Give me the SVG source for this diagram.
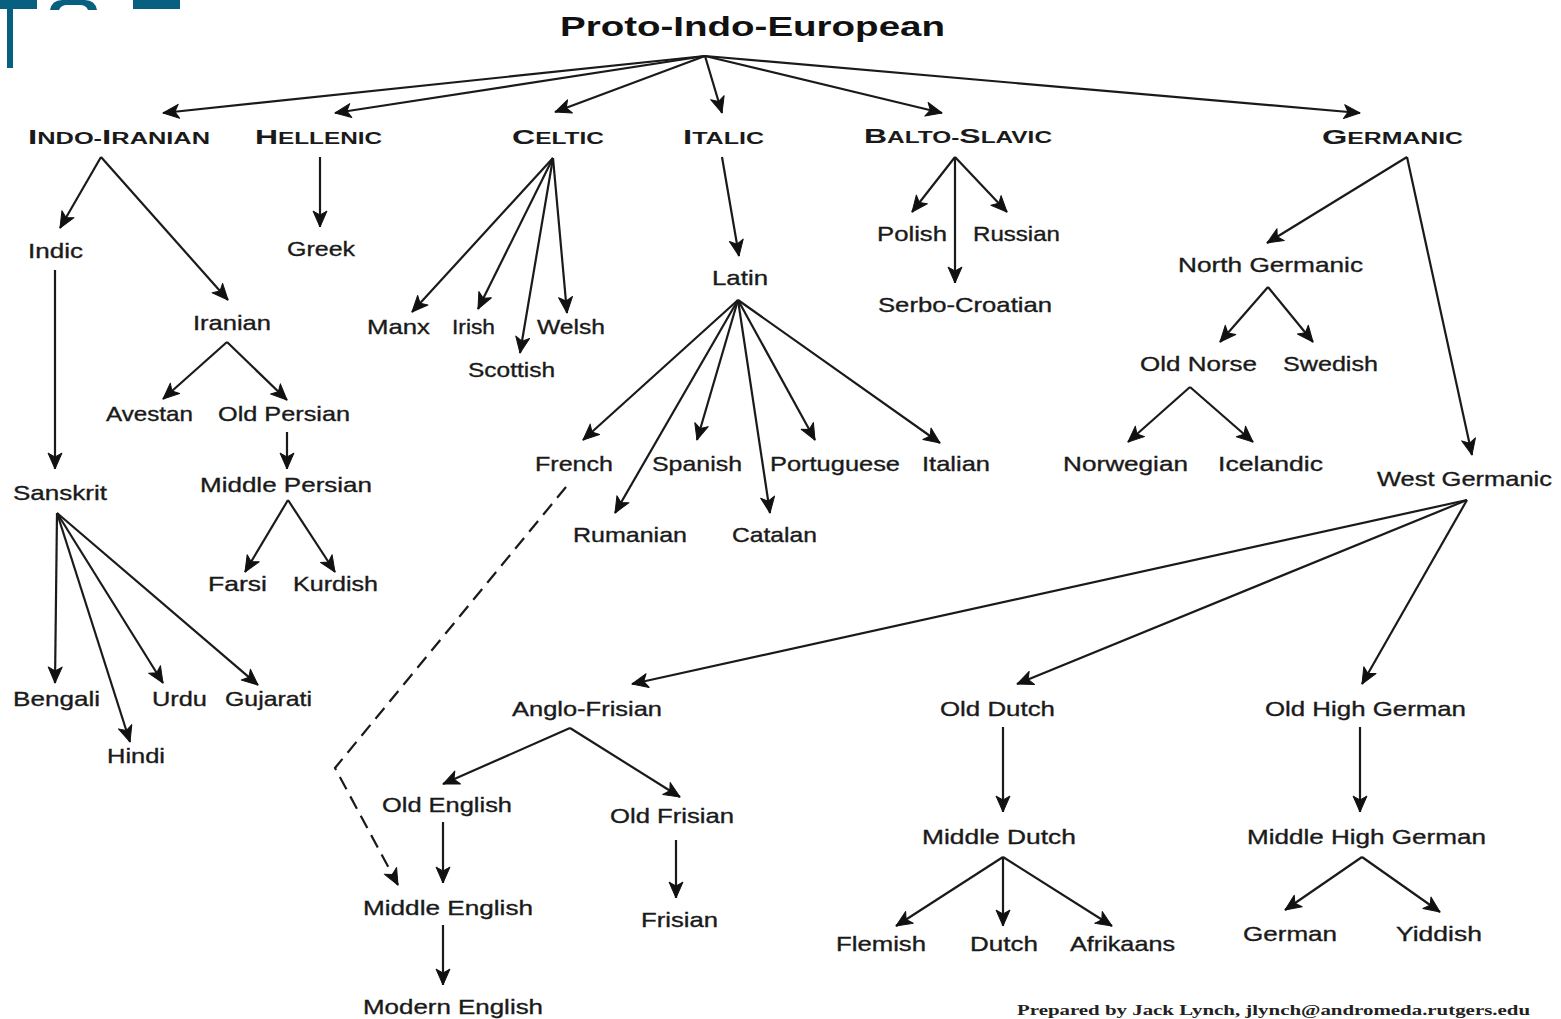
<svg xmlns="http://www.w3.org/2000/svg" width="1561" height="1019" viewBox="0 0 1561 1019">
<style>
.lbl{font-family:"Liberation Sans",Arial,sans-serif;font-size:21px;fill:#1a1a1a;stroke:#1a1a1a;stroke-width:0.35}
.hd{font-family:"Liberation Sans",Arial,sans-serif;font-weight:bold;font-size:16px;fill:#1a1a1a}
.big{font-size:21px}
.ttl{font-family:"Liberation Sans",Arial,sans-serif;font-weight:bold;font-size:28px;fill:#111}
.cr{font-family:"Liberation Serif","Times New Roman",serif;font-weight:bold;font-size:14px;fill:#222}
.c line,.c polyline{stroke:#1a1a1a;stroke-width:2.2;fill:none;marker-end:url(#ah)}
.c .dash{stroke-dasharray:14 8}
</style>
<defs>
<marker id="ah" markerUnits="userSpaceOnUse" markerWidth="20" markerHeight="18" refX="17" refY="8" orient="auto">
<path d="M1,1 L17,8 L1,15 L5,8 Z" fill="#111" stroke="#111" stroke-width="1" stroke-linejoin="round"/>
</marker>
</defs>
<rect width="1561" height="1019" fill="#fff"/>
<g id="corner" fill="#086080">
<rect x="0" y="0" width="37" height="9"/>
<rect x="7" y="0" width="6" height="68"/>
<path d="M50,10 Q52,0 62,0 H85 Q95,0 97,10 H88 Q86,5 80,5 H67 Q61,5 59,10 Z"/>
<rect x="133" y="0" width="47" height="9"/>
</g>
<g id="connectors" class="c">
<line x1="705" y1="56" x2="163" y2="113"/>
<line x1="705" y1="56" x2="335" y2="113"/>
<line x1="705" y1="56" x2="555" y2="112"/>
<line x1="705" y1="56" x2="722" y2="113"/>
<line x1="705" y1="56" x2="942" y2="113"/>
<line x1="705" y1="56" x2="1360" y2="113"/>
<line x1="101" y1="157" x2="60" y2="228"/>
<line x1="101" y1="157" x2="228" y2="300"/>
<line x1="55" y1="270" x2="55" y2="469"/>
<line x1="320" y1="157" x2="320" y2="227"/>
<line x1="227" y1="342" x2="163" y2="399"/>
<line x1="227" y1="342" x2="287" y2="400"/>
<line x1="287" y1="432" x2="287" y2="469"/>
<line x1="288" y1="500" x2="245" y2="572"/>
<line x1="288" y1="500" x2="335" y2="572"/>
<line x1="57" y1="513" x2="55" y2="683"/>
<line x1="57" y1="513" x2="130" y2="742"/>
<line x1="57" y1="513" x2="163" y2="683"/>
<line x1="57" y1="513" x2="258" y2="685"/>
<line x1="553" y1="158" x2="412" y2="312"/>
<line x1="553" y1="158" x2="478" y2="309"/>
<line x1="553" y1="158" x2="520" y2="353"/>
<line x1="553" y1="158" x2="567" y2="313"/>
<line x1="722" y1="157" x2="739" y2="256"/>
<line x1="738" y1="300" x2="583" y2="440"/>
<line x1="738" y1="300" x2="615" y2="513"/>
<line x1="738" y1="300" x2="697" y2="440"/>
<line x1="738" y1="300" x2="770" y2="513"/>
<line x1="738" y1="300" x2="815" y2="440"/>
<line x1="738" y1="300" x2="940" y2="443"/>
<line x1="955" y1="157" x2="912" y2="212"/>
<line x1="955" y1="157" x2="1007" y2="212"/>
<line x1="955" y1="157" x2="955" y2="283"/>
<line x1="1407" y1="157" x2="1267" y2="243"/>
<line x1="1407" y1="157" x2="1472" y2="455"/>
<line x1="1268" y1="287" x2="1220" y2="342"/>
<line x1="1268" y1="287" x2="1313" y2="342"/>
<line x1="1190" y1="387" x2="1128" y2="442"/>
<line x1="1190" y1="387" x2="1253" y2="442"/>
<line x1="1467" y1="500" x2="632" y2="684"/>
<line x1="1467" y1="500" x2="1017" y2="684"/>
<line x1="1467" y1="500" x2="1362" y2="684"/>
<line x1="570" y1="728" x2="443" y2="784"/>
<line x1="570" y1="728" x2="680" y2="797"/>
<line x1="443" y1="822" x2="443" y2="883"/>
<line x1="443" y1="925" x2="443" y2="985"/>
<line x1="676" y1="840" x2="676" y2="898"/>
<line x1="1003" y1="727" x2="1003" y2="812"/>
<line x1="1003" y1="857" x2="896" y2="926"/>
<line x1="1003" y1="857" x2="1003" y2="926"/>
<line x1="1003" y1="857" x2="1112" y2="926"/>
<line x1="1360" y1="727" x2="1360" y2="812"/>
<line x1="1362" y1="857" x2="1285" y2="910"/>
<line x1="1362" y1="857" x2="1440" y2="912"/>
<polyline class="dash" points="566,487 335,768 398,885"/>
</g>
<g id="n-pie"><text class="ttl" x="560" y="36" textLength="385" lengthAdjust="spacingAndGlyphs">Proto-Indo-European</text></g>
<g id="n-indoiranian"><text class="hd" x="28" y="144" textLength="182" lengthAdjust="spacingAndGlyphs"><tspan class="big">I</tspan>NDO-<tspan class="big">I</tspan>RANIAN</text></g>
<g id="n-hellenic"><text class="hd" x="255" y="144" textLength="127" lengthAdjust="spacingAndGlyphs"><tspan class="big">H</tspan>ELLENIC</text></g>
<g id="n-celtic"><text class="hd" x="512" y="144" textLength="92" lengthAdjust="spacingAndGlyphs"><tspan class="big">C</tspan>ELTIC</text></g>
<g id="n-italic"><text class="hd" x="683" y="144" textLength="81" lengthAdjust="spacingAndGlyphs"><tspan class="big">I</tspan>TALIC</text></g>
<g id="n-baltoslavic"><text class="hd" x="864" y="143" textLength="188" lengthAdjust="spacingAndGlyphs"><tspan class="big">B</tspan>ALTO-<tspan class="big">S</tspan>LAVIC</text></g>
<g id="n-germanic"><text class="hd" x="1322" y="144" textLength="141" lengthAdjust="spacingAndGlyphs"><tspan class="big">G</tspan>ERMANIC</text></g>
<g id="n-indic"><text class="lbl" x="28" y="258" textLength="55" lengthAdjust="spacingAndGlyphs">Indic</text></g>
<g id="n-greek"><text class="lbl" x="287" y="256" textLength="68" lengthAdjust="spacingAndGlyphs">Greek</text></g>
<g id="n-iranian"><text class="lbl" x="193" y="330" textLength="78" lengthAdjust="spacingAndGlyphs">Iranian</text></g>
<g id="n-avestan"><text class="lbl" x="106" y="421" textLength="87" lengthAdjust="spacingAndGlyphs">Avestan</text></g>
<g id="n-oldpersian"><text class="lbl" x="218" y="421" textLength="132" lengthAdjust="spacingAndGlyphs">Old Persian</text></g>
<g id="n-middlepersian"><text class="lbl" x="200" y="492" textLength="172" lengthAdjust="spacingAndGlyphs">Middle Persian</text></g>
<g id="n-sanskrit"><text class="lbl" x="13" y="500" textLength="94" lengthAdjust="spacingAndGlyphs">Sanskrit</text></g>
<g id="n-farsi"><text class="lbl" x="208" y="591" textLength="59" lengthAdjust="spacingAndGlyphs">Farsi</text></g>
<g id="n-kurdish"><text class="lbl" x="293" y="591" textLength="85" lengthAdjust="spacingAndGlyphs">Kurdish</text></g>
<g id="n-bengali"><text class="lbl" x="13" y="706" textLength="87" lengthAdjust="spacingAndGlyphs">Bengali</text></g>
<g id="n-urdu"><text class="lbl" x="152" y="706" textLength="55" lengthAdjust="spacingAndGlyphs">Urdu</text></g>
<g id="n-gujarati"><text class="lbl" x="225" y="706" textLength="87" lengthAdjust="spacingAndGlyphs">Gujarati</text></g>
<g id="n-hindi"><text class="lbl" x="107" y="763" textLength="58" lengthAdjust="spacingAndGlyphs">Hindi</text></g>
<g id="n-manx"><text class="lbl" x="367" y="334" textLength="63" lengthAdjust="spacingAndGlyphs">Manx</text></g>
<g id="n-irish"><text class="lbl" x="452" y="334" textLength="43" lengthAdjust="spacingAndGlyphs">Irish</text></g>
<g id="n-welsh"><text class="lbl" x="537" y="334" textLength="68" lengthAdjust="spacingAndGlyphs">Welsh</text></g>
<g id="n-scottish"><text class="lbl" x="468" y="377" textLength="87" lengthAdjust="spacingAndGlyphs">Scottish</text></g>
<g id="n-latin"><text class="lbl" x="712" y="285" textLength="56" lengthAdjust="spacingAndGlyphs">Latin</text></g>
<g id="n-french"><text class="lbl" x="535" y="471" textLength="78" lengthAdjust="spacingAndGlyphs">French</text></g>
<g id="n-spanish"><text class="lbl" x="652" y="471" textLength="90" lengthAdjust="spacingAndGlyphs">Spanish</text></g>
<g id="n-portuguese"><text class="lbl" x="770" y="471" textLength="130" lengthAdjust="spacingAndGlyphs">Portuguese</text></g>
<g id="n-italian"><text class="lbl" x="922" y="471" textLength="68" lengthAdjust="spacingAndGlyphs">Italian</text></g>
<g id="n-rumanian"><text class="lbl" x="573" y="542" textLength="114" lengthAdjust="spacingAndGlyphs">Rumanian</text></g>
<g id="n-catalan"><text class="lbl" x="732" y="542" textLength="85" lengthAdjust="spacingAndGlyphs">Catalan</text></g>
<g id="n-polish"><text class="lbl" x="877" y="241" textLength="70" lengthAdjust="spacingAndGlyphs">Polish</text></g>
<g id="n-russian"><text class="lbl" x="973" y="241" textLength="87" lengthAdjust="spacingAndGlyphs">Russian</text></g>
<g id="n-serbocroatian"><text class="lbl" x="878" y="312" textLength="174" lengthAdjust="spacingAndGlyphs">Serbo-Croatian</text></g>
<g id="n-northgermanic"><text class="lbl" x="1178" y="272" textLength="185" lengthAdjust="spacingAndGlyphs">North Germanic</text></g>
<g id="n-oldnorse"><text class="lbl" x="1140" y="371" textLength="117" lengthAdjust="spacingAndGlyphs">Old Norse</text></g>
<g id="n-swedish"><text class="lbl" x="1283" y="371" textLength="95" lengthAdjust="spacingAndGlyphs">Swedish</text></g>
<g id="n-norwegian"><text class="lbl" x="1063" y="471" textLength="125" lengthAdjust="spacingAndGlyphs">Norwegian</text></g>
<g id="n-icelandic"><text class="lbl" x="1218" y="471" textLength="105" lengthAdjust="spacingAndGlyphs">Icelandic</text></g>
<g id="n-westgermanic"><text class="lbl" x="1377" y="486" textLength="175" lengthAdjust="spacingAndGlyphs">West Germanic</text></g>
<g id="n-anglofrisian"><text class="lbl" x="512" y="716" textLength="150" lengthAdjust="spacingAndGlyphs">Anglo-Frisian</text></g>
<g id="n-olddutch"><text class="lbl" x="940" y="716" textLength="115" lengthAdjust="spacingAndGlyphs">Old Dutch</text></g>
<g id="n-oldhighgerman"><text class="lbl" x="1265" y="716" textLength="201" lengthAdjust="spacingAndGlyphs">Old High German</text></g>
<g id="n-oldenglish"><text class="lbl" x="382" y="812" textLength="130" lengthAdjust="spacingAndGlyphs">Old English</text></g>
<g id="n-oldfrisian"><text class="lbl" x="610" y="823" textLength="124" lengthAdjust="spacingAndGlyphs">Old Frisian</text></g>
<g id="n-middleenglish"><text class="lbl" x="363" y="915" textLength="170" lengthAdjust="spacingAndGlyphs">Middle English</text></g>
<g id="n-frisian"><text class="lbl" x="641" y="927" textLength="77" lengthAdjust="spacingAndGlyphs">Frisian</text></g>
<g id="n-modernenglish"><text class="lbl" x="363" y="1014" textLength="180" lengthAdjust="spacingAndGlyphs">Modern English</text></g>
<g id="n-middledutch"><text class="lbl" x="922" y="844" textLength="154" lengthAdjust="spacingAndGlyphs">Middle Dutch</text></g>
<g id="n-middlehighgerman"><text class="lbl" x="1247" y="844" textLength="239" lengthAdjust="spacingAndGlyphs">Middle High German</text></g>
<g id="n-flemish"><text class="lbl" x="836" y="951" textLength="90" lengthAdjust="spacingAndGlyphs">Flemish</text></g>
<g id="n-dutch"><text class="lbl" x="970" y="951" textLength="68" lengthAdjust="spacingAndGlyphs">Dutch</text></g>
<g id="n-afrikaans"><text class="lbl" x="1070" y="951" textLength="105" lengthAdjust="spacingAndGlyphs">Afrikaans</text></g>
<g id="n-german"><text class="lbl" x="1243" y="941" textLength="94" lengthAdjust="spacingAndGlyphs">German</text></g>
<g id="n-yiddish"><text class="lbl" x="1396" y="941" textLength="86" lengthAdjust="spacingAndGlyphs">Yiddish</text></g>
<g id="credit"><text class="cr" x="1017" y="1015" textLength="513" lengthAdjust="spacingAndGlyphs">Prepared by Jack Lynch, jlynch@andromeda.rutgers.edu</text></g>
</svg>
